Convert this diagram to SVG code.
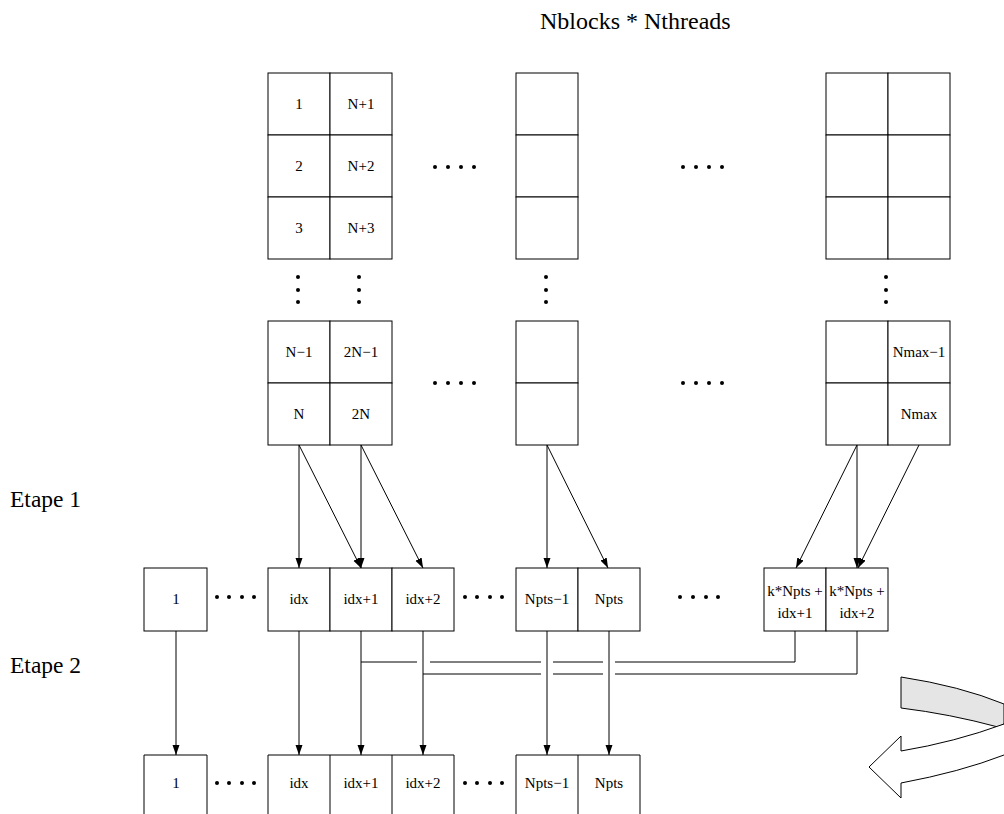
<svg xmlns="http://www.w3.org/2000/svg" width="1004" height="814" viewBox="0 0 1004 814">
<style>
.c{fill:#fff;stroke:#000;stroke-width:1}
.t{font-family:"Liberation Serif",serif;font-size:15px;text-anchor:middle;fill:#000}
.big{font-family:"Liberation Serif",serif;font-size:23.5px;fill:#000}
.ttl{font-family:"Liberation Serif",serif;font-size:24px;fill:#000}
.ln{fill:none;stroke:#000;stroke-width:1}
.d{fill:#000}
</style>
<defs>
<marker id="ah" markerUnits="userSpaceOnUse" markerWidth="11" markerHeight="8" refX="10" refY="3.5" orient="auto">
<path d="M0,0 L10,3.5 L0,7 z" fill="#000"/>
</marker>
</defs>
<rect width="1004" height="814" fill="#fff"/>

<text class="ttl" x="540" y="29">Nblocks * Nthreads</text>
<text class="big" x="10" y="507">Etape 1</text>
<text class="big" x="10" y="673">Etape 2</text>

<g id="block1-top">
<rect class="c" x="268" y="73" width="62" height="62"/><text class="t" x="299" y="109">1</text>
<rect class="c" x="330" y="73" width="62" height="62"/><text class="t" x="361" y="109">N+1</text>
<rect class="c" x="268" y="135" width="62" height="62"/><text class="t" x="299" y="171">2</text>
<rect class="c" x="330" y="135" width="62" height="62"/><text class="t" x="361" y="171">N+2</text>
<rect class="c" x="268" y="197" width="62" height="62"/><text class="t" x="299" y="233">3</text>
<rect class="c" x="330" y="197" width="62" height="62"/><text class="t" x="361" y="233">N+3</text>
</g>
<g id="block1-bottom">
<rect class="c" x="268" y="321" width="62" height="62"/><text class="t" x="299" y="357">N−1</text>
<rect class="c" x="330" y="321" width="62" height="62"/><text class="t" x="361" y="357">2N−1</text>
<rect class="c" x="268" y="383" width="62" height="62"/><text class="t" x="299" y="419">N</text>
<rect class="c" x="330" y="383" width="62" height="62"/><text class="t" x="361" y="419">2N</text>
</g>
<g id="block2-top">
<rect class="c" x="516" y="73" width="62" height="62"/>
<rect class="c" x="516" y="135" width="62" height="62"/>
<rect class="c" x="516" y="197" width="62" height="62"/>
</g>
<g id="block2-bottom">
<rect class="c" x="516" y="321" width="62" height="62"/>
<rect class="c" x="516" y="383" width="62" height="62"/>
</g>
<g id="block3-top">
<rect class="c" x="826" y="73" width="62" height="62"/>
<rect class="c" x="888" y="73" width="62" height="62"/>
<rect class="c" x="826" y="135" width="62" height="62"/>
<rect class="c" x="888" y="135" width="62" height="62"/>
<rect class="c" x="826" y="197" width="62" height="62"/>
<rect class="c" x="888" y="197" width="62" height="62"/>
</g>
<g id="block3-bottom">
<rect class="c" x="826" y="321" width="62" height="62"/>
<rect class="c" x="888" y="321" width="62" height="62"/><text class="t" x="919" y="357">Nmax−1</text>
<rect class="c" x="826" y="383" width="62" height="62"/>
<rect class="c" x="888" y="383" width="62" height="62"/><text class="t" x="919" y="419">Nmax</text>
</g>

<g id="dots">
<circle class="d" cx="435" cy="167" r="2"/><circle class="d" cx="448" cy="167" r="2"/><circle class="d" cx="461" cy="167" r="2"/><circle class="d" cx="474" cy="167" r="2"/>
<circle class="d" cx="683" cy="167" r="2"/><circle class="d" cx="696" cy="167" r="2"/><circle class="d" cx="709" cy="167" r="2"/><circle class="d" cx="722" cy="167" r="2"/>
<circle class="d" cx="435" cy="383" r="2"/><circle class="d" cx="448" cy="383" r="2"/><circle class="d" cx="461" cy="383" r="2"/><circle class="d" cx="474" cy="383" r="2"/>
<circle class="d" cx="683" cy="383" r="2"/><circle class="d" cx="696" cy="383" r="2"/><circle class="d" cx="709" cy="383" r="2"/><circle class="d" cx="722" cy="383" r="2"/>
<circle class="d" cx="298" cy="277" r="2"/><circle class="d" cx="298" cy="290" r="2"/><circle class="d" cx="298" cy="302" r="2"/>
<circle class="d" cx="359" cy="277" r="2"/><circle class="d" cx="359" cy="290" r="2"/><circle class="d" cx="359" cy="302" r="2"/>
<circle class="d" cx="546" cy="277" r="2"/><circle class="d" cx="546" cy="290" r="2"/><circle class="d" cx="546" cy="302" r="2"/>
<circle class="d" cx="886" cy="277" r="2"/><circle class="d" cx="886" cy="290" r="2"/><circle class="d" cx="886" cy="302" r="2"/>
<circle class="d" cx="217" cy="597" r="2"/><circle class="d" cx="229" cy="597" r="2"/><circle class="d" cx="242" cy="597" r="2"/><circle class="d" cx="254" cy="597" r="2"/>
<circle class="d" cx="465" cy="597" r="2"/><circle class="d" cx="477" cy="597" r="2"/><circle class="d" cx="490" cy="597" r="2"/><circle class="d" cx="502" cy="597" r="2"/>
<circle class="d" cx="680" cy="597" r="2"/><circle class="d" cx="693" cy="597" r="2"/><circle class="d" cx="706" cy="597" r="2"/><circle class="d" cx="718" cy="597" r="2"/>
<circle class="d" cx="217" cy="783" r="2"/><circle class="d" cx="229" cy="783" r="2"/><circle class="d" cx="242" cy="783" r="2"/><circle class="d" cx="254" cy="783" r="2"/>
<circle class="d" cx="465" cy="783" r="2"/><circle class="d" cx="477" cy="783" r="2"/><circle class="d" cx="490" cy="783" r="2"/><circle class="d" cx="502" cy="783" r="2"/>
</g>

<g id="row1">
<rect class="c" x="144" y="568" width="63" height="63"/><text class="t" x="176" y="604">1</text>
<rect class="c" x="268" y="568" width="62" height="63"/><text class="t" x="299" y="604">idx</text>
<rect class="c" x="330" y="568" width="62" height="63"/><text class="t" x="361" y="604">idx+1</text>
<rect class="c" x="392" y="568" width="62" height="63"/><text class="t" x="423" y="604">idx+2</text>
<rect class="c" x="516" y="568" width="62" height="63"/><text class="t" x="547" y="604">Npts−1</text>
<rect class="c" x="578" y="568" width="62" height="63"/><text class="t" x="609" y="604">Npts</text>
<rect class="c" x="764" y="568" width="62" height="63"/><text class="t" x="795" y="596">k*Npts +</text><text class="t" x="795" y="618">idx+1</text>
<rect class="c" x="826" y="568" width="62" height="63"/><text class="t" x="857" y="596">k*Npts +</text><text class="t" x="857" y="618">idx+2</text>
</g>

<g id="row2">
<path class="ln" d="M144,814 V755 H207 V814"/><text class="t" x="176" y="788">1</text>
<path class="ln" d="M268,814 V755 H454 V814 M330,755 V814 M392,755 V814"/>
<text class="t" x="299" y="788">idx</text><text class="t" x="361" y="788">idx+1</text><text class="t" x="423" y="788">idx+2</text>
<path class="ln" d="M516,814 V755 H640 V814 M578,755 V814"/>
<text class="t" x="547" y="788">Npts−1</text><text class="t" x="609" y="788">Npts</text>
</g>

<g id="connectors">
<line class="ln" x1="299" y1="445" x2="299" y2="568" marker-end="url(#ah)"/>
<line class="ln" x1="299" y1="445" x2="361" y2="568" marker-end="url(#ah)"/>
<line class="ln" x1="361" y1="445" x2="361" y2="568" marker-end="url(#ah)"/>
<line class="ln" x1="361" y1="445" x2="423" y2="568" marker-end="url(#ah)"/>
<line class="ln" x1="547" y1="445" x2="547" y2="568" marker-end="url(#ah)"/>
<line class="ln" x1="547" y1="445" x2="608" y2="568" marker-end="url(#ah)"/>
<line class="ln" x1="857" y1="445" x2="796" y2="568" marker-end="url(#ah)"/>
<line class="ln" x1="857" y1="445" x2="857" y2="568" marker-end="url(#ah)"/>
<line class="ln" x1="919" y1="445" x2="858" y2="568" marker-end="url(#ah)"/>

<line class="ln" x1="176" y1="631" x2="176" y2="755" marker-end="url(#ah)"/>
<line class="ln" x1="299" y1="631" x2="299" y2="755" marker-end="url(#ah)"/>
<line class="ln" x1="361" y1="631" x2="361" y2="755" marker-end="url(#ah)"/>
<line class="ln" x1="423" y1="631" x2="423" y2="755" marker-end="url(#ah)"/>
<line class="ln" x1="547" y1="631" x2="547" y2="755" marker-end="url(#ah)"/>
<line class="ln" x1="609" y1="631" x2="609" y2="755" marker-end="url(#ah)"/>

<path class="ln" d="M795,631 V662 H615 M603,662 H553 M541,662 H430 M417,662 H361"/>
<path class="ln" d="M857,631 V674 H615 M603,674 H553 M541,674 H423"/>
</g>

<g id="curved-arrow">
<path d="M901,677 Q960,686 1004,704 L1004,724 L998,727 Q950,714 901,708 Z" fill="#e5e5e5" stroke="#000" stroke-width="1"/>
<path d="M1004,724 Q955,742 901,751 L901,736 L869,767 L901,798 L901,783 Q960,772 1004,755" fill="#fff" stroke="#000" stroke-width="1"/>
</g>
</svg>
